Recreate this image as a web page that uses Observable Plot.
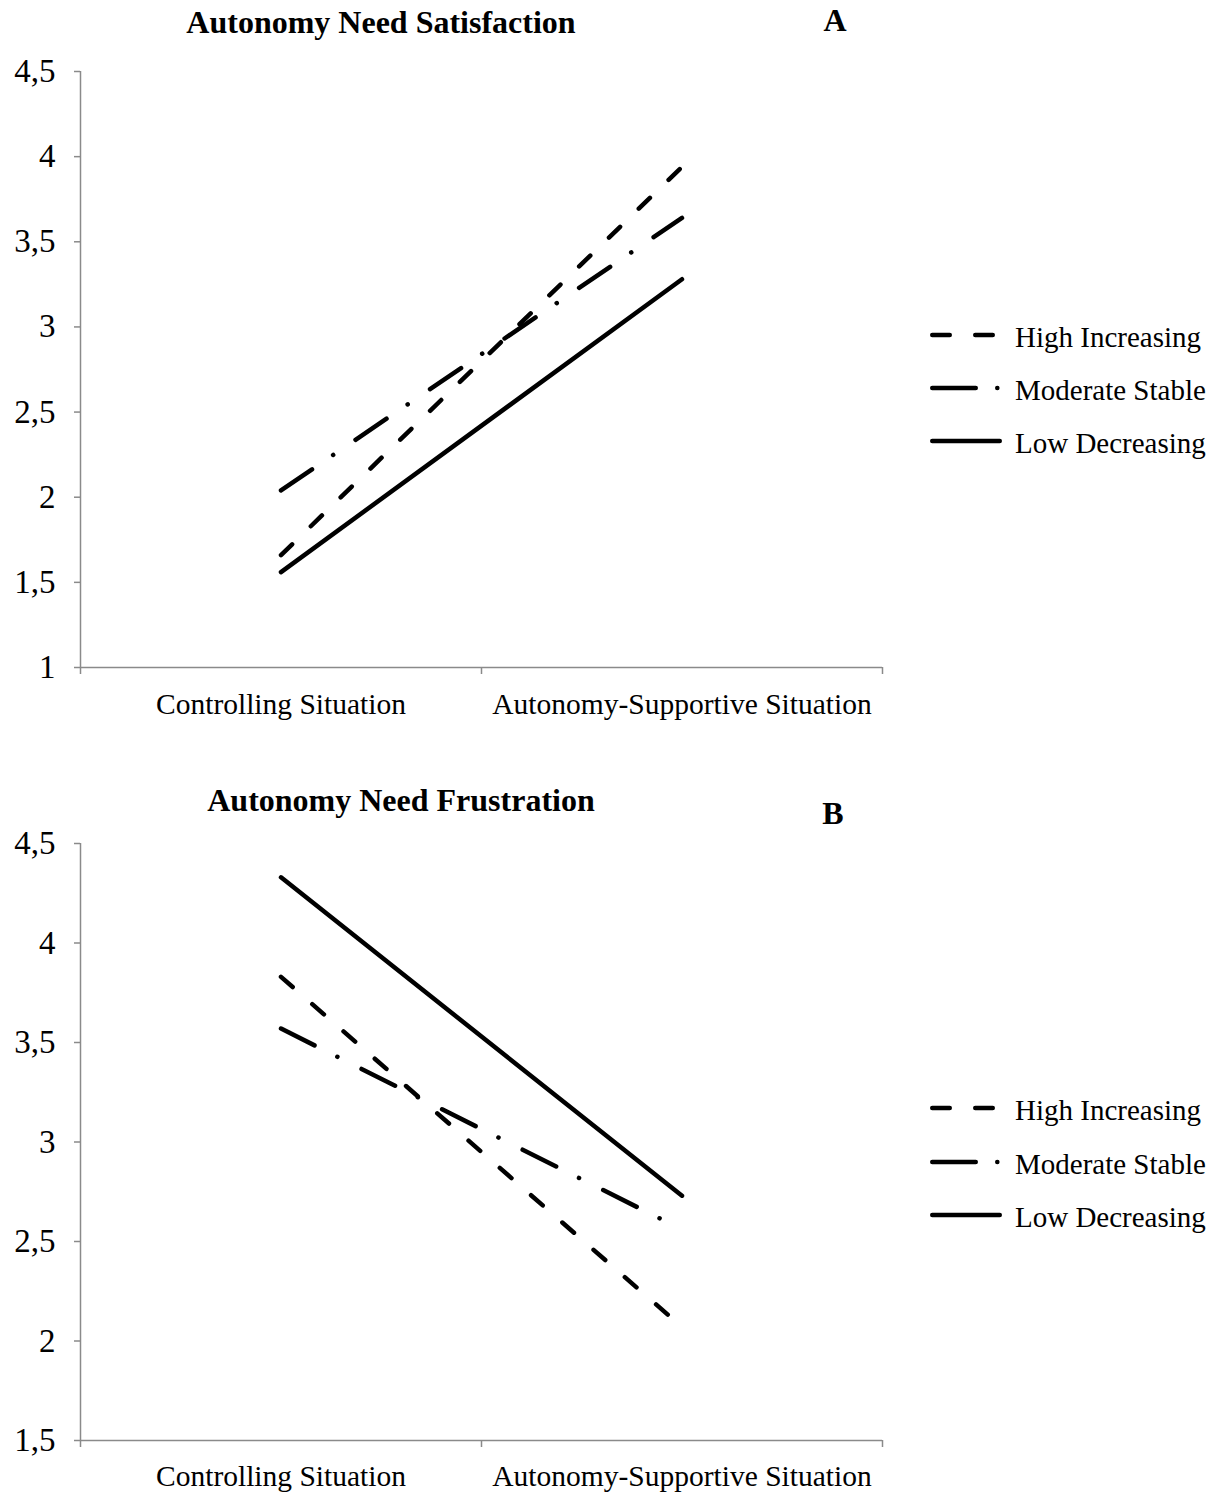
<!DOCTYPE html>
<html>
<head>
<meta charset="utf-8">
<script src="https://cdn.jsdelivr.net/npm/d3@7"></script>
<script src="https://cdn.jsdelivr.net/npm/@observablehq/plot@0.6"></script>
<style>
  html, body { margin: 0; padding: 0; background: white; }
  #wrap { position: relative; width: 1217px; height: 1495px; font-family: "Liberation Serif", "Times New Roman", serif; color: black; overflow: hidden; }
  .abs { position: absolute; white-space: nowrap; transform: translate(-50%, -50%); }
  .title { font-weight: bold; font-size: 32px; }
  .legtext { position: absolute; white-space: nowrap; font-size: 29px; transform: translateY(-50%); }
</style>
</head>
<body>
<div id="wrap"></div>
<script>
// ---- data ----
const situations = ["Controlling Situation", "Autonomy-Supportive Situation"];
const groups = ["High Increasing", "Moderate Stable", "Low Decreasing"];
// Panel A: Autonomy Need Satisfaction (Controlling, Autonomy-Supportive)
const satHigh = [1.66, 3.94];
const satModerate = [2.04, 3.64];
const satLow = [1.56, 3.28];
// Panel B: Autonomy Need Frustration
const fruHigh = [3.83, 2.07];
const fruModerate = [3.57, 2.56];
const fruLow = [4.33, 2.73];
const ticksA = [1, 1.5, 2, 2.5, 3, 3.5, 4, 4.5];
const ticksB = [1.5, 2, 2.5, 3, 3.5, 4, 4.5];

const dashes = {
  "High Increasing": "15.5,26",
  "Moderate Stable": "37.5,25.5,0.1,27",
  "Low Decreasing": null
};

const fmt = d => String(d).replace(".", ",");
const wrap = document.getElementById("wrap");

function panel({series, ticks, yDomain, top, height, marginTop, marginBottom, labelDy}) {
  const rows = [];
  groups.forEach((g, gi) => series[gi].forEach((v, i) => rows.push({group: g, pos: i + 0.5, value: v})));
  const lineMarks = groups.map(g => Plot.line(rows.filter(r => r.group === g), {
    x: "pos", y: "value", stroke: "black", strokeWidth: 4.5,
    strokeLinecap: "round", strokeLinejoin: "round",
    strokeDasharray: dashes[g] || undefined
  }));
  const chart = Plot.plot({
    width: 900,
    height,
    marginLeft: 80,
    marginRight: 18,
    marginTop,
    marginBottom,
    style: {fontFamily: '"Liberation Serif", "Times New Roman", serif', fontSize: "30px", color: "black", background: "white", overflow: "visible"},
    x: {type: "linear", domain: [0, 2]},
    y: {domain: yDomain},
    marks: [
      Plot.ruleX([0], {stroke: "#8a8a8a", strokeWidth: 1.5}),
      Plot.ruleY([yDomain[0]], {stroke: "#8a8a8a", strokeWidth: 1.5}),
      Plot.axisY({ticks, tickSize: 6, tickPadding: 19, tickFormat: fmt, stroke: "#8a8a8a", strokeWidth: 1.5, label: null, fontSize: 33}),
      Plot.axisX({ticks: [0, 1, 2], tickSize: 7, tickFormat: () => "", stroke: "#8a8a8a", strokeWidth: 1.5, label: null}),
      Plot.text(situations, {x: (d, i) => i + 0.5, y: () => yDomain[0], text: d => d, dy: labelDy, fontSize: 29.5, fill: "black"}),
      ...lineMarks
    ]
  });
  chart.style.position = "absolute";
  chart.style.left = "0px";
  chart.style.top = top + "px";
  wrap.appendChild(chart);
}

function label(text, x, y, cls) {
  const d = document.createElement("div");
  d.className = "abs " + cls;
  d.style.left = x + "px";
  d.style.top = y + "px";
  d.textContent = text;
  wrap.appendChild(d);
}

function legend(rowsY) {
  groups.forEach((g, i) => {
    const y = rowsY[i];
    const svg = d3.create("svg").attr("width", 90).attr("height", 20)
      .style("position", "absolute").style("left", "920px").style("top", (y - 10) + "px");
    let x2 = 999.75;
    if (g === "High Increasing") x2 = 992.75;
    if (g === "Moderate Stable") x2 = 997.5;
    const line = svg.append("line")
      .attr("x1", 932.25 - 920).attr("x2", x2 - 920).attr("y1", 10).attr("y2", 10)
      .attr("stroke", "black").attr("stroke-width", 4.5).attr("stroke-linecap", "round");
    if (g === "High Increasing") line.attr("stroke-dasharray", "17.5,25.5");
    if (g === "Moderate Stable") line.attr("stroke-dasharray", "43.5,21.5,0.1,100");
    wrap.appendChild(svg.node());
    const t = document.createElement("div");
    t.className = "legtext";
    t.style.left = "1015px";
    t.style.top = (y + 2) + "px";
    t.textContent = g;
    wrap.appendChild(t);
  });
}

panel({series: [satHigh, satModerate, satLow], ticks: ticksA, yDomain: [1, 4.5], top: 0, height: 730, marginTop: 71, marginBottom: 63, labelDy: 37});
panel({series: [fruHigh, fruModerate, fruLow], ticks: ticksB, yDomain: [1.5, 4.5], top: 760, height: 735, marginTop: 83, marginBottom: 55, labelDy: 36});

label("Autonomy Need Satisfaction", 381, 22, "title");
label("A", 835, 20, "title");
label("Autonomy Need Frustration", 401, 800, "title");
label("B", 833, 813, "title");

legend([335, 388, 441]);
legend([1108, 1162, 1215]);
</script>
</body>
</html>
